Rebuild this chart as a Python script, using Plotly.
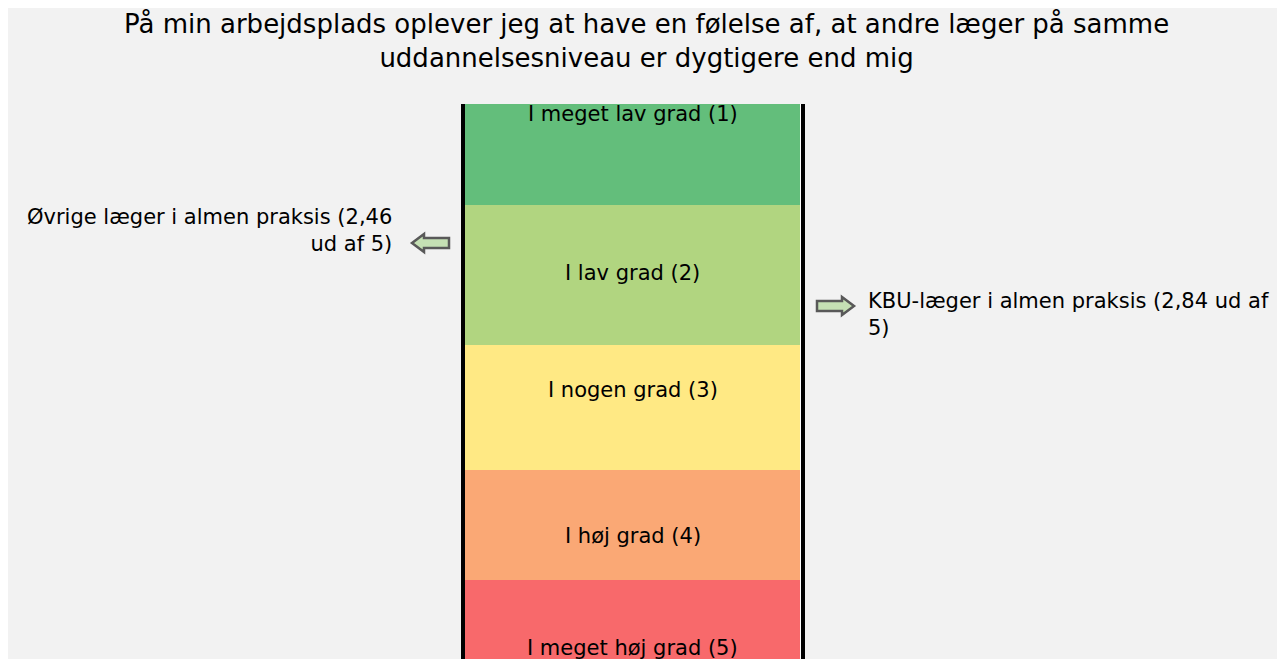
import plotly.graph_objects as go

# ---- data ----
categories = ["I meget lav grad (1)", "I lav grad (2)", "I nogen grad (3)", "I høj grad (4)", "I meget høj grad (5)"]
band_top = [1.00, 2.231, 3.075, 3.829, 4.493]
band_bottom = [2.231, 3.075, 3.829, 4.493, 5.00]
band_colors = ["#63be7b", "#b1d580", "#ffe984", "#faa875", "#f8696b"]
label_y = [1.682, 2.641, 3.347, 4.227, 4.903]

groups = ["Øvrige læger i almen praksis", "KBU-læger i almen praksis"]
scores = [2.46, 2.84]
score_text = ["Øvrige læger i almen praksis (2,46<br>ud af 5)", "KBU-læger i almen praksis (2,84 ud af<br>5)"]

title = "På min arbejdsplads oplever jeg at have en følelse af, at andre læger på samme<br>uddannelsesniveau er dygtigere end mig"

# ---- layout ----
W, H = 1277, 651
TOP = 96
Y_RANGE = [4.969, 1.622]
px_per_unit = (H - TOP) / (Y_RANGE[0] - Y_RANGE[1])

FONT = "DejaVu Sans"
bar_left, bar_right = 457, 792
bar_center = (bar_left + bar_right) / 2

fig = go.Figure()
for i, cat in enumerate(categories):
    fig.add_trace(go.Bar(
        x=[bar_center], y=[band_bottom[i] - band_top[i]], base=[band_top[i]],
        width=[bar_right - bar_left], marker=dict(color=band_colors[i], line=dict(width=0)),
        name=cat, showlegend=False, hoverinfo="name",
    ))
    fig.add_annotation(x=bar_center, y=label_y[i], xref="x", yref="y", text=cat,
                       showarrow=False, yanchor="middle",
                       font=dict(family=FONT, size=21, color="#000000"))

shapes = []
# bar side borders
shapes.append(dict(type="rect", xref="x", yref="paper", x0=453, x1=457, y0=0, y1=1,
                   fillcolor="#000000", line=dict(width=0)))
shapes.append(dict(type="rect", xref="x", yref="paper", x0=792, x1=793, y0=0, y1=1,
                   fillcolor="#ffffff", line=dict(width=0)))
shapes.append(dict(type="rect", xref="x", yref="paper", x0=793, x1=797, y0=0, y1=1,
                   fillcolor="#000000", line=dict(width=0)))

def block_arrow(x_tip, y, direction, length=37, head=12, head_h=9, shaft_h=5):
    hh = head_h / px_per_unit
    sh = shaft_h / px_per_unit
    d = direction
    xb = x_tip + d * head
    xe = x_tip + d * length
    pts = [(x_tip, y), (xb, y - hh), (xb, y - sh), (xe, y - sh), (xe, y + sh), (xb, y + sh), (xb, y + hh)]
    path = "M " + " L ".join(f"{px},{py}" for px, py in pts) + " Z"
    return dict(type="path", xref="x", yref="y", path=path, fillcolor="#c5e0b4",
                line=dict(color="#595959", width=2.5))

shapes.append(block_arrow(404, scores[0], +1))
shapes.append(block_arrow(846, scores[1], -1))
fig.update_layout(shapes=shapes)

fig.add_annotation(x=386, y=scores[0], xref="x", yref="y", text=score_text[0],
                   showarrow=False, xanchor="right", yanchor="middle", align="right", yshift=12,
                   font=dict(family=FONT, size=21, color="#000000"))
fig.add_annotation(x=858, y=scores[1], xref="x", yref="y", text=score_text[1],
                   showarrow=False, xanchor="left", yanchor="middle", align="left", yshift=-9,
                   font=dict(family=FONT, size=21, color="#000000"))

# title
fig.add_annotation(x=0.5, y=(H - 33) / (H - TOP), xref="paper", yref="paper", text=title,
                   showarrow=False, xanchor="center", yanchor="middle", align="center",
                   font=dict(family=FONT, size=26, color="#000000"))

fig.update_layout(
    width=W, height=H,
    margin=dict(l=0, r=0, t=TOP, b=0, pad=0),
    paper_bgcolor="#f2f2f2", plot_bgcolor="rgba(0,0,0,0)",
    xaxis=dict(range=[0, W], visible=False, fixedrange=True),
    yaxis=dict(range=Y_RANGE, visible=False, fixedrange=True),
    barmode="overlay", bargap=0,
)

fig.write_html("out.html")
